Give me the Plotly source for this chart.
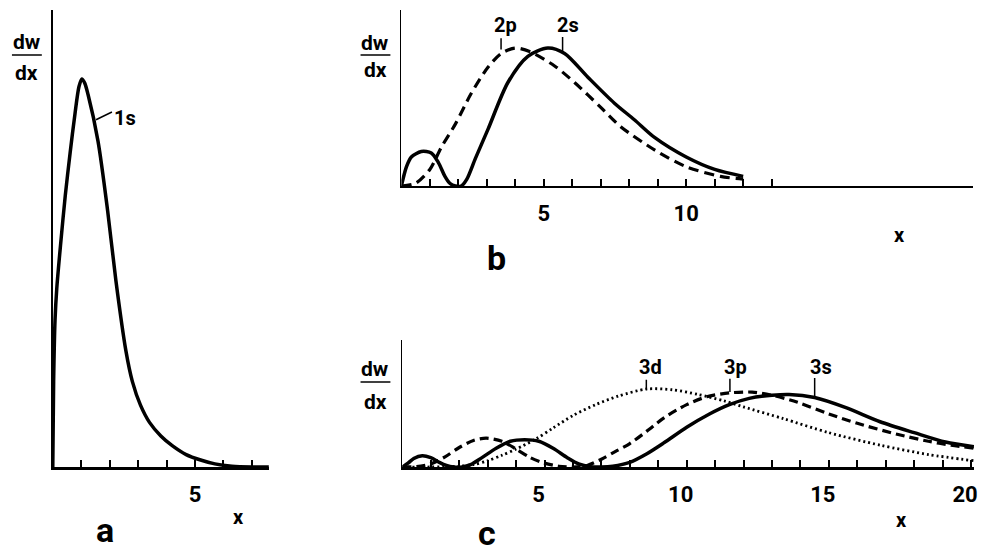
import plotly.graph_objects as go

W, H = 987, 552

# ---------------- data ----------------
# panel a : 1s
a_x = [0, 0.03, 0.08, 0.14, 0.27, 0.44, 0.61, 0.78, 0.92, 1.02, 1.12, 1.24, 1.59, 1.93, 2.22,
       2.57, 2.8, 3.08, 3.4, 3.8, 4.2, 4.69, 5.2, 5.7, 6.3, 7.0, 7.6]
a_1s = [0, 0.22, 0.38, 0.46, 0.57, 0.70, 0.81, 0.91, 0.98, 1.0, 0.99, 0.96, 0.84, 0.66, 0.48,
        0.30, 0.22, 0.16, 0.115, 0.08, 0.055, 0.032, 0.018, 0.008, 0.002, 0.0, 0.0]

# panel b : 2s and 2p
b_x_2s = [0, 0.18, 0.35, 0.7, 1.05, 1.3, 1.53, 1.7, 1.9, 2.1, 2.3, 2.6, 3.04, 3.74, 4.44, 5.14,
          5.73, 6.54, 7.48, 8.18, 8.9, 10.0, 11.0, 12.0]
b_2s = [0, 0.14, 0.21, 0.25, 0.24, 0.17, 0.07, 0.02, 0.0, 0.0, 0.05, 0.2, 0.41, 0.75, 0.94, 1.0,
        0.96, 0.79, 0.60, 0.48, 0.35, 0.21, 0.12, 0.07]
b_x_2p = [0, 0.5, 1.0, 1.4, 1.9, 2.45, 3.04, 3.5, 4.0, 4.55, 5.38, 6.08, 7.0, 7.7, 8.9, 10.0,
          11.2, 12.0]
b_2p = [0, 0.02, 0.12, 0.28, 0.45, 0.67, 0.86, 0.96, 1.0, 0.97, 0.87, 0.75, 0.57, 0.43, 0.26,
        0.14, 0.07, 0.05]

# panel c : 3s, 3p, 3d
c_x_3s = [0, 0.2, 0.4, 0.7, 1.0, 1.3, 1.55, 1.8, 2.1, 2.4, 2.8, 3.3, 3.8, 4.3, 4.8, 5.3, 5.8,
          6.2, 6.6, 7.0, 7.4, 8.0, 8.6, 9.2, 10.0, 10.8, 11.5, 12.2, 13.0, 13.6, 14.5, 15.6, 16.8,
          18.0, 19.1, 20.1]
c_3s = [0, 0.05, 0.11, 0.145, 0.12, 0.06, 0.02, 0.0, 0.0, 0.03, 0.12, 0.24, 0.33, 0.35, 0.33,
        0.24, 0.12, 0.04, 0.005, 0.0, 0.01, 0.06, 0.17, 0.31, 0.51, 0.68, 0.80, 0.88, 0.92,
        0.93, 0.89, 0.76, 0.58, 0.44, 0.32, 0.26]
c_x_3p = [0, 0.5, 1.0, 1.5, 2.0, 2.5, 2.95, 3.5, 4.0, 4.5, 5.0, 5.5, 6.0, 6.5, 7.0, 7.5, 8.0,
          8.6, 9.2, 10.0, 10.7, 11.5, 12.3, 13.0, 13.9, 15.0, 16.0, 17.4, 18.5, 19.3, 20.1]
c_3p = [0, 0.005, 0.04, 0.13, 0.25, 0.34, 0.37, 0.33, 0.23, 0.12, 0.05, 0.01, 0.0, 0.02, 0.1,
        0.2, 0.3, 0.46, 0.63, 0.8, 0.9, 0.95, 0.96, 0.92, 0.83, 0.68, 0.56, 0.42, 0.33, 0.28, 0.24]
c_x_3d = [0, 1.0, 2.0, 2.5, 3.0, 3.5, 4.0, 4.7, 5.3, 6.0, 6.8, 7.6, 8.6, 9.5, 10.4, 11.3, 12.0,
          13.4, 15.0, 16.8, 18.5, 20.1]
c_3d = [0, 0, 0.01, 0.03, 0.08, 0.15, 0.23, 0.36, 0.5, 0.66, 0.8, 0.91, 1.0, 0.99, 0.93, 0.85,
        0.77, 0.62, 0.44, 0.28, 0.16, 0.08]

a_ticks = [1, 2, 3, 4, 5, 6, 7]
a_ticklabels = ["", "", "", "", "5", "", ""]
b_ticks = list(range(1, 14))
b_ticklabels = ["5" if t == 5 else ("10" if t == 10 else "") for t in b_ticks]
c_ticks = list(range(1, 21))
c_ticklabels = [str(t) if t % 5 == 0 else "" for t in c_ticks]

# ---------------- figure ----------------
FONT = "Roboto, Liberation Sans, sans-serif"


def px(x):
    return x / W


def py(y):
    return 1 - y / H


fig = go.Figure()
LW = 3.5
SM = 0.8
fig.add_trace(go.Scatter(x=a_x, y=a_1s, mode="lines", xaxis="x", yaxis="y",
                         line=dict(color="black", width=LW, shape="spline", smoothing=SM)))
fig.add_trace(go.Scatter(x=b_x_2p, y=b_2p, mode="lines", xaxis="x2", yaxis="y2",
                         line=dict(color="black", width=3.2, dash="10px,6px", shape="spline",
                                   smoothing=SM)))
fig.add_trace(go.Scatter(x=b_x_2s, y=b_2s, mode="lines", xaxis="x2", yaxis="y2",
                         line=dict(color="black", width=LW, shape="spline", smoothing=SM)))
fig.add_trace(go.Scatter(x=c_x_3d, y=c_3d, mode="lines", xaxis="x3", yaxis="y3",
                         line=dict(color="black", width=2.8, dash="2px,3px", shape="spline",
                                   smoothing=SM)))
fig.add_trace(go.Scatter(x=c_x_3p, y=c_3p, mode="lines", xaxis="x3", yaxis="y3",
                         line=dict(color="black", width=3.2, dash="9px,5px", shape="spline",
                                   smoothing=SM)))
fig.add_trace(go.Scatter(x=c_x_3s, y=c_3s, mode="lines", xaxis="x3", yaxis="y3",
                         line=dict(color="black", width=LW, shape="spline", smoothing=SM)))

tickfont = dict(family=FONT, size=22, color="black", weight="bold")
common_x = dict(showgrid=False, zeroline=False, showline=True, linecolor="black",
                ticks="inside", tickcolor="black", tickwidth=1.5, ticklen=7,
                tickfont=tickfont, ticklabelstandoff=6, fixedrange=True)
common_y = dict(showgrid=False, zeroline=False, showline=True, linecolor="black",
                showticklabels=False, ticks="", fixedrange=True)

fig.update_layout(
    width=W, height=H, margin=dict(l=0, r=0, t=0, b=0),
    paper_bgcolor="white", plot_bgcolor="white", showlegend=False,
    xaxis=dict(domain=[px(53), px(270)], range=[0, 7.6], tickvals=a_ticks,
               ticktext=a_ticklabels, linewidth=3, anchor="y", **common_x),
    yaxis=dict(domain=[py(467), py(10)], range=[0, 457 / 388], linewidth=2, anchor="x",
               **common_y),
    xaxis2=dict(domain=[px(403), px(977)], range=[0, 574 / 28.6], tickvals=b_ticks,
                ticktext=b_ticklabels, linewidth=2.2, anchor="y2", **common_x),
    yaxis2=dict(domain=[py(186), py(10)], range=[0, 176 / 138], linewidth=1.3, anchor="x2",
                **common_y),
    xaxis3=dict(domain=[px(404), px(978)], range=[0, 574 / 28.55], tickvals=c_ticks,
                ticktext=c_ticklabels, linewidth=2.5, anchor="y3", ticklabelshift=-6,
                **common_x),
    yaxis3=dict(domain=[py(467), py(340)], range=[0, 127 / 78], linewidth=1.3, anchor="x3",
                **common_y),
)

ann = []


def text(x, y, s, size, xref="paper", yref="paper"):
    ann.append(dict(x=x, y=y, xref=xref, yref=yref, text=s, showarrow=False,
                    font=dict(family=FONT, size=size, color="black", weight="bold"),
                    xanchor="center", yanchor="middle"))


shapes = []


def seg(x0, y0, x1, y1, xref="paper", yref="paper", w=1.5):
    shapes.append(dict(type="line", x0=x0, y0=y0, x1=x1, y1=y1, xref=xref, yref=yref,
                       line=dict(color="black", width=w)))


# dw/dx fractions
for cx, ytop, yline, ybot in [(27, 42, 55, 73), (377, 43, 55, 70), (377, 369, 382, 402)]:
    text(px(cx), py(ytop), "dw", 21)
    text(px(cx), py(ybot), "dx", 21)
    seg(px(cx - 15), py(yline), px(cx + 15), py(yline), w=1.5)

# x axis letters
text(px(239), py(517), "x", 20)
text(px(903), py(235), "x", 20)
text(px(905), py(520), "x", 20)

# panel letters
text(px(105), py(530), "a", 34)
text(px(499), py(258), "b", 34)
text(px(489), py(533), "c", 34)

# curve labels with leaders
text(2.55, 0.90, "1s", 20, "x", "y")
seg(1.52, 0.895, 2.08, 0.915, "x", "y")
text(3.66, 1.17, "2p", 20, "x2", "y2")
seg(3.5, 1.07, 3.5, 0.99, "x2", "y2")
text(5.86, 1.17, "2s", 20, "x2", "y2")
seg(5.66, 1.08, 5.66, 0.97, "x2", "y2")
text(8.72, 1.28, "3d", 20, "x3", "y3")
seg(8.58, 1.12, 8.58, 0.99, "x3", "y3")
text(11.72, 1.28, "3p", 20, "x3", "y3")
seg(11.52, 1.13, 11.52, 0.96, "x3", "y3")
text(14.72, 1.28, "3s", 20, "x3", "y3")
seg(14.5, 1.14, 14.5, 0.91, "x3", "y3")

fig.update_layout(annotations=ann, shapes=shapes)
fig.write_html("out.html")
